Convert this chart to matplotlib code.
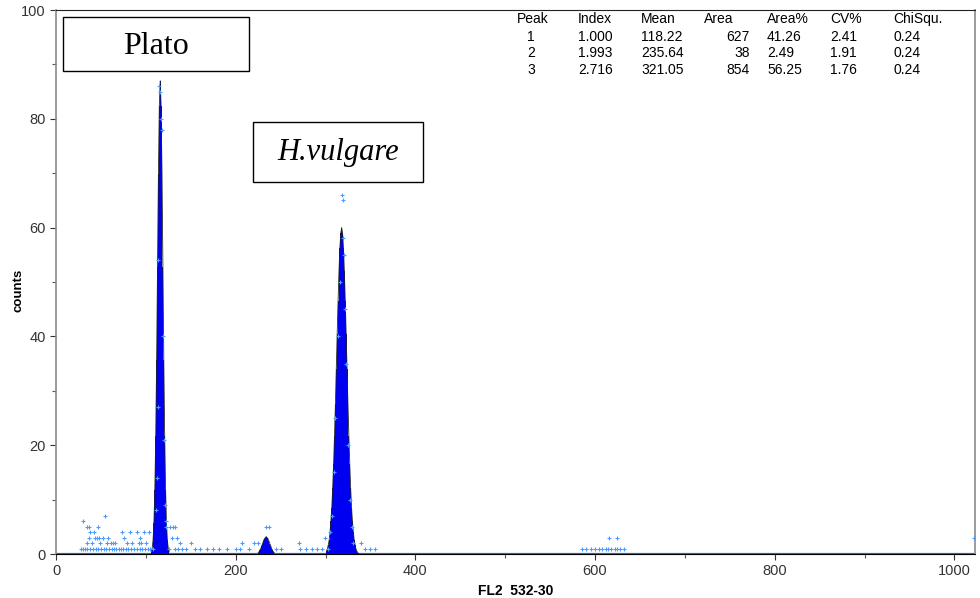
import matplotlib
matplotlib.use("Agg")
import matplotlib.pyplot as plt
from matplotlib.patches import Rectangle

# ---------------- data ----------------
# fitted peak profiles (channel, counts)
peak1_ch = [106, 107, 108, 109, 110, 111, 112, 113, 114, 115, 116, 117, 118, 119, 120, 121, 122, 123, 124, 125, 126]
peak1_ct = [0.4, 1.0, 2.5, 5.7, 11.8, 21.6, 35.6, 52.8, 69.9, 82.4, 87.0, 82.4, 69.9, 52.8, 35.6, 21.6, 11.8, 5.7, 2.5, 1.0, 0.4]

peak2_ch = [225, 226, 227, 228, 229, 230, 231, 232, 233, 234, 235, 236, 237, 238, 239, 240, 241, 242, 243]
peak2_ct = [0.2, 0.4, 0.7, 1.0, 1.5, 1.9, 2.4, 2.8, 3.0, 3.2, 3.0, 2.8, 2.4, 1.9, 1.5, 1.0, 0.7, 0.4, 0.2]

peak3_ch = [301, 302, 303, 304, 305, 306, 307, 308, 309, 310, 311, 312, 313, 314, 315, 316, 317, 318, 319,
            320, 321, 322, 323, 324, 325, 326, 327, 328, 329, 330, 331, 332, 333, 334, 335, 336, 337]
peak3_ct = [0.5, 0.9, 1.6, 2.5, 4.0, 6.0, 8.5, 12.2, 16.5, 21.7, 27.5, 34.0, 40.5, 46.5, 52.0, 56.3, 59.0, 60.0, 59.0,
            56.3, 52.0, 46.5, 40.5, 34.0, 27.5, 21.7, 16.5, 12.2, 8.5, 6.0, 4.0, 2.5, 1.6, 0.9, 0.5, 0.2, 0.1]

# raw histogram points (channel, counts)
raw_ch = [28, 30, 32, 35, 38, 41, 44, 47, 50, 53, 56, 59, 62, 65, 67, 70, 72, 75, 78, 80, 84, 87, 90, 93, 96, 99, 102, 105, 108,
          34, 40, 49, 57, 61, 63, 66, 79, 85, 92, 95, 100,
          37, 43, 46, 48, 52, 58, 76, 94,
          38, 42, 74, 82, 90, 98, 104,
          35, 37, 47, 30, 55,
          127, 130, 133, 129, 135, 138, 150,
          126, 132, 136, 140, 145, 155, 160, 168, 175, 182, 190,
          200, 205, 215, 245, 250, 207, 220, 225, 234, 237,
          270, 272, 278, 285, 290, 299, 296,
          340, 344, 350, 355,
          585, 590, 595, 600, 605, 608, 612, 615, 618, 622, 625, 628, 632, 616, 624,
          1022,
          115, 116, 117, 118, 114, 119, 113, 120, 112, 121, 122, 111, 123,
          318, 319, 320, 321, 316, 322, 314, 323, 311, 325, 309, 327, 307, 329, 305, 331, 303]
raw_ct = [1, 1, 1, 1, 1, 1, 1, 1, 1, 1, 1, 1, 1, 1, 1, 1, 1, 1, 1, 1, 1, 1, 1, 1, 1, 1, 1, 1, 1,
          2, 2, 2, 2, 2, 2, 2, 2, 2, 2, 2, 2,
          3, 3, 3, 3, 3, 3, 3, 3,
          4, 4, 4, 4, 4, 4, 4,
          5, 5, 5, 6, 7,
          5, 5, 5, 3, 3, 2, 2,
          1, 1, 1, 1, 1, 1, 1, 1, 1, 1, 1,
          1, 1, 1, 1, 1, 2, 2, 2, 5, 5,
          2, 1, 1, 1, 1, 3, 1,
          2, 1, 1, 1,
          1, 1, 1, 1, 1, 1, 1, 1, 1, 1, 1, 1, 1, 3, 3,
          3,
          86, 85, 80, 78, 54, 40, 27, 21, 14, 9, 6, 8, 5,
          66, 65, 58, 55, 50, 45, 40, 35, 25, 20, 15, 10, 7, 5, 4, 2, 1]

table_header = ["Peak", "Index", "Mean", "Area", "Area%", "CV%", "ChiSqu."]
table_rows = [["1", "1.000", "118.22", "627", "41.26", "2.41", "0.24"],
              ["2", "1.993", "235.64", "38", "2.49", "1.91", "0.24"],
              ["3", "2.716", "321.05", "854", "56.25", "1.76", "0.24"]]

W, H = 980, 598
fig = plt.figure(figsize=(W / 100, H / 100), dpi=100)
ax = fig.add_axes([56 / W, 1 - 554 / H, (975 - 56) / W, (554 - 10) / H])

blue = "#0000f0"
dots = "#4a9bff"
# baseline at zero counts
ax.plot([0, 1023], [0, 0], color="#1f6fe0", lw=1.6, zorder=2)
for ch, ct in [(peak1_ch, peak1_ct), (peak2_ch, peak2_ct), (peak3_ch, peak3_ct)]:
    ax.fill_between(ch, ct, step="mid", color=blue, lw=0, zorder=3)
    ax.plot(ch, ct, color="#222222", lw=0.6, zorder=4)
ax.plot(raw_ch, raw_ct, linestyle="none", marker="+", ms=3, mew=0.8, color=dots, zorder=5)

ax.set_xlim(0, 1023)
ax.set_ylim(0, 100)
ax.set_xticks([0, 200, 400, 600, 800, 1000])
ax.set_xticks([100, 300, 500, 700, 900], minor=True)
ax.set_yticks([0, 20, 40, 60, 80, 100])
ax.set_yticks([10, 30, 50, 70, 90], minor=True)
ax.tick_params(axis="both", which="major", labelsize=10.5, colors="#333333", length=4, width=0.8,
               labelfontfamily="Liberation Sans")
ax.tick_params(axis="both", which="minor", length=3, width=0.8, colors="#555555")
for s in ["left", "right"]:
    ax.spines[s].set_color("#8a8a8a")
    ax.spines[s].set_linewidth(1.2)
ax.spines["bottom"].set_color("black")
ax.spines["top"].set_color("#222222")

ax.set_xlabel("FL2  532-30", fontsize=10, fontweight="bold", family="Liberation Sans", labelpad=4)
fig.text(18 / W, 1 - 290 / H, "counts", rotation=90, fontsize=9.5, fontweight="bold",
         family="Liberation Sans", ha="center", va="center")

# statistics table
col_x = [531, 578, 641, 750, 767, 830, 893]
col_ha = ["center", "left", "left", "right", "left", "left", "left"]
hdr_x = [533, 578, 641, 704, 767, 830, 893]
hdr_ha = ["center", "left", "left", "left", "left", "left", "left"]
for j, t in enumerate(table_header):
    fig.text(hdr_x[j] / W, 1 - 19 / H, t, fontsize=10, family="Liberation Sans", ha=hdr_ha[j], va="center")
row_y = [37, 53, 70]
for i, row in enumerate(table_rows):
    for j, t in enumerate(row):
        fig.text(col_x[j] / W, 1 - row_y[i] / H, t, fontsize=10, family="Liberation Sans",
                 ha=col_ha[j], va="center")

# label boxes
fig.patches.append(Rectangle((63 / W, 1 - 71 / H), (249 - 63) / W, (71 - 17) / H, transform=fig.transFigure,
                             fill=True, facecolor="white", edgecolor="black", lw=1.0, zorder=10))
fig.text(156 / W, 1 - 47 / H, "Plato", fontsize=23, family="Liberation Serif", ha="center", va="center", zorder=11)
fig.patches.append(Rectangle((253 / W, 1 - 182 / H), (423 - 253) / W, (182 - 122) / H, transform=fig.transFigure,
                             fill=True, facecolor="white", edgecolor="black", lw=1.0, zorder=10))
fig.text(338 / W, 1 - 152 / H, "H.vulgare", fontsize=22, family="Liberation Serif", style="italic",
         ha="center", va="center", zorder=11)

fig.savefig("out.png", dpi=100)
